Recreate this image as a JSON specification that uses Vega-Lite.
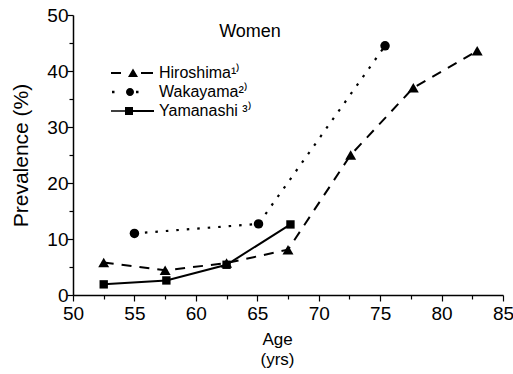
{
  "$schema": "https://vega.github.io/schema/vega-lite/v6.json",
  "width": 430,
  "height": 280,
  "autosize": {"type": "none"},
  "padding": {"left": 73, "top": 15, "right": 10, "bottom": 79},
  "background": "white",
  "title": {"text": "Women", "fontSize": 18, "font": "Liberation Sans", "fontWeight": "normal", "anchor": "middle", "dx": -38, "offset": -35, "color": "black"},
  "config": {
    "view": {"stroke": null},
    "axis": {"domainColor": "black", "domainWidth": 1.5, "tickColor": "black", "tickWidth": 1.2, "labelColor": "black", "labelFont": "Liberation Sans", "labelFontSize": 19, "titleFont": "Liberation Sans", "titleColor": "black", "titleFontWeight": "normal", "grid": false, "labelFlush": false, "labelOverlap": false}
  },
  "data": {"values": [
    {"series": "Hiroshima", "age": 52.5, "prev": 5.8},
    {"series": "Hiroshima", "age": 57.5, "prev": 4.4},
    {"series": "Hiroshima", "age": 62.5, "prev": 5.7},
    {"series": "Hiroshima", "age": 67.5, "prev": 8.1},
    {"series": "Hiroshima", "age": 72.6, "prev": 25.0},
    {"series": "Hiroshima", "age": 77.7, "prev": 37.0},
    {"series": "Hiroshima", "age": 82.9, "prev": 43.6},
    {"series": "Wakayama", "age": 55.0, "prev": 11.0},
    {"series": "Wakayama", "age": 65.1, "prev": 12.7},
    {"series": "Wakayama", "age": 75.4, "prev": 44.5},
    {"series": "Yamanashi", "age": 52.5, "prev": 1.9},
    {"series": "Yamanashi", "age": 57.6, "prev": 2.6},
    {"series": "Yamanashi", "age": 62.5, "prev": 5.4},
    {"series": "Yamanashi", "age": 67.7, "prev": 12.6}
  ]},
  "encoding": {
    "x": {"field": "age", "type": "quantitative", "scale": {"domain": [50, 85], "nice": false, "zero": false},
      "axis": {"values": [50, 52.5, 55, 57.5, 60, 62.5, 65, 67.5, 70, 72.5, 75, 77.5, 80, 82.5, 85],
        "labelExpr": "datum.value % 5 === 0 ? datum.label : ''",
        "tickSize": {"condition": {"test": "datum.value % 5 === 0", "value": 6}, "value": 4},
        "labelPadding": 3,
        "title": ["Age", "(yrs)"], "titleFontSize": 17, "titleLineHeight": 20, "titleX": 204, "titlePadding": 8}},
    "y": {"field": "prev", "type": "quantitative", "scale": {"domain": [0, 50], "nice": false},
      "axis": {"values": [0, 5, 10, 15, 20, 25, 30, 35, 40, 45, 50],
        "labelExpr": "datum.value % 10 === 0 ? datum.label : ''",
        "tickSize": {"condition": {"test": "datum.value % 10 === 0", "value": 6}, "value": 4},
        "labelPadding": -1,
        "title": "Prevalence (%)", "titleFontSize": 21, "titlePadding": 15}}
  },
  "layer": [
    {
      "transform": [{"filter": "datum.series === 'Hiroshima'"}],
      "mark": {"type": "line", "color": "black", "strokeWidth": 2, "strokeDash": [10, 8]}
    },
    {
      "transform": [{"filter": "datum.series === 'Wakayama'"}],
      "mark": {"type": "line", "color": "black", "strokeWidth": 2.2, "strokeDash": [2.5, 8]}
    },
    {
      "transform": [{"filter": "datum.series === 'Yamanashi'"}],
      "mark": {"type": "line", "color": "black", "strokeWidth": 2}
    },
    {
      "transform": [{"filter": "datum.series === 'Hiroshima'"}],
      "mark": {"type": "point", "filled": true, "color": "black", "opacity": 1, "shape": "triangle-up", "size": 120}
    },
    {
      "transform": [{"filter": "datum.series === 'Wakayama'"}],
      "mark": {"type": "point", "filled": true, "color": "black", "opacity": 1, "shape": "circle", "size": 90}
    },
    {
      "transform": [{"filter": "datum.series === 'Yamanashi'"}],
      "mark": {"type": "point", "filled": true, "color": "black", "opacity": 1, "shape": "square", "size": 70}
    },
    {
      "mark": {"type": "point", "filled": true, "color": "black", "opacity": 0},
      "encoding": {
        "shape": {"field": "series", "type": "nominal",
          "scale": {"domain": ["Hiroshima", "Wakayama", "Yamanashi"],
            "range": [
              "M-1,-0.1L0,-0.1L0,0.1L-1,0.1ZM0.7,0.4L1.2,-0.45L1.7,0.4ZM2,-0.1L3.2,-0.1L3.2,0.1L2,0.1Z",
              "M-0.9,-0.12L-0.65,-0.12L-0.65,0.12L-0.9,0.12ZM0.5,0A0.4,0.4 0 1,0 1.3,0A0.4,0.4 0 1,0 0.5,0ZM1.5,-0.12L1.75,-0.12L1.75,0.12L1.5,0.12Z",
              "M-1,-0.08L0.4,-0.08L0.4,0.08L-1,0.08ZM0.4,-0.4L1.2,-0.4L1.2,0.4L0.4,0.4ZM1.2,-0.1L3.3,-0.1L3.3,0.1L1.2,0.1Z"
            ]},
          "legend": {
            "title": null, "orient": "none", "legendX": 37, "legendY": 47, "padding": 0,
            "symbolSize": 400, "symbolFillColor": "black", "symbolOpacity": 1,
            "labelFont": "Liberation Sans", "labelFontSize": 16, "labelColor": "black", "labelOffset": 27, "rowPadding": -2,
            "labelExpr": "datum.label === 'Hiroshima' ? 'Hiroshima¹⁾' : datum.label === 'Wakayama' ? 'Wakayama²⁾' : 'Yamanashi ³⁾'"
          }}
      }
    }
  ]
}
